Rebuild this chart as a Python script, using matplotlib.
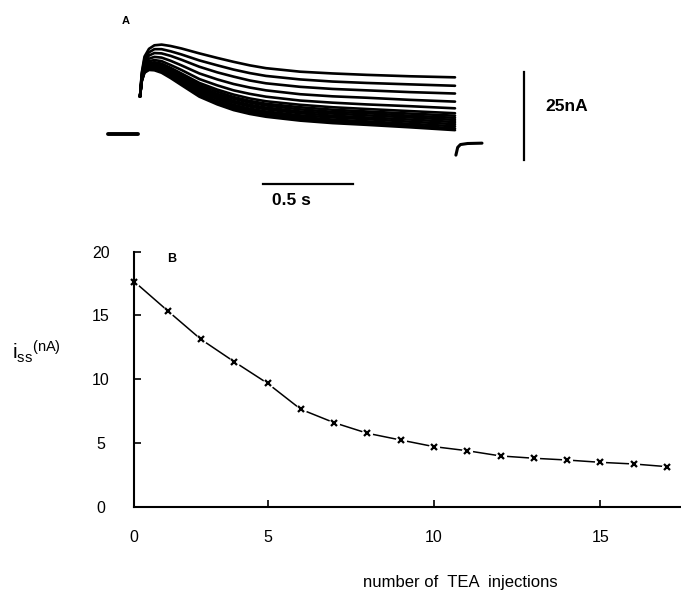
import matplotlib
matplotlib.use('Agg')
import matplotlib.pyplot as plt

plt.rcParams['font.family'] = ['Liberation Sans', 'DejaVu Sans']
plt.rcParams['mathtext.fontset'] = 'custom'
plt.rcParams['mathtext.rm'] = 'Liberation Sans'
plt.rcParams['mathtext.it'] = 'Liberation Sans:italic'

W, H = 681, 591

# A: current traces, time (s) from pulse onset, current (nA) above holding level
t_trace = [0.0, 0.01, 0.025, 0.05, 0.08, 0.12, 0.17, 0.23, 0.33,
           0.43, 0.52, 0.61, 0.70, 0.89, 1.07, 1.26, 1.5, 1.75]
traces = [
    [10.6, 17.5, 22.0, 24.2, 25.2, 25.4, 25.0, 24.3, 22.9, 21.6, 20.5, 19.5, 18.7, 17.7, 17.2, 16.8, 16.4, 16.1],
    [10.6, 17.1, 21.3, 23.2, 24.1, 24.1, 23.5, 22.6, 20.9, 19.5, 18.3, 17.3, 16.5, 15.5, 14.9, 14.5, 14.1, 13.7],
    [10.6, 16.7, 20.6, 22.3, 23.0, 22.9, 22.2, 21.1, 19.1, 17.5, 16.3, 15.2, 14.4, 13.4, 12.8, 12.4, 11.9, 11.5],
    [10.6, 16.4, 19.9, 21.4, 21.9, 21.7, 20.8, 19.5, 17.2, 15.5, 14.2, 13.2, 12.4, 11.3, 10.7, 10.3, 9.7, 9.2],
    [10.6, 16.0, 19.3, 20.7, 21.0, 20.7, 19.6, 18.2, 15.6, 13.8, 12.4, 11.4, 10.6, 9.5, 8.9, 8.4, 7.9, 7.3],
    [10.6, 15.8, 18.9, 20.1, 20.4, 20.0, 18.8, 17.2, 14.5, 12.6, 11.2, 10.1, 9.3, 8.3, 7.6, 7.1, 6.5, 5.9],
    [10.6, 15.7, 18.6, 19.8, 20.0, 19.6, 18.4, 16.7, 13.9, 12.0, 10.5, 9.4, 8.6, 7.6, 6.9, 6.4, 5.8, 5.2],
    [10.6, 15.6, 18.5, 19.6, 19.7, 19.2, 18.0, 16.3, 13.4, 11.4, 10.0, 8.9, 8.1, 7.0, 6.3, 5.9, 5.2, 4.6],
    [10.6, 15.5, 18.3, 19.3, 19.5, 18.9, 17.6, 15.9, 12.9, 10.9, 9.4, 8.3, 7.5, 6.4, 5.8, 5.3, 4.7, 4.0],
    [10.6, 15.4, 18.1, 19.1, 19.2, 18.6, 17.3, 15.5, 12.5, 10.4, 8.9, 7.8, 7.0, 5.9, 5.2, 4.7, 4.1, 3.4],
    [10.6, 15.3, 17.9, 18.9, 18.9, 18.3, 16.9, 15.0, 12.0, 9.9, 8.3, 7.2, 6.4, 5.3, 4.7, 4.2, 3.5, 2.8],
    [10.6, 15.2, 17.7, 18.6, 18.6, 18.0, 16.5, 14.6, 11.5, 9.3, 7.8, 6.7, 5.9, 4.8, 4.1, 3.6, 2.9, 2.2],
    [10.6, 15.1, 17.6, 18.4, 18.4, 17.7, 16.2, 14.3, 11.0, 8.9, 7.3, 6.2, 5.4, 4.3, 3.6, 3.1, 2.4, 1.6],
    [10.6, 15.0, 17.4, 18.2, 18.1, 17.4, 15.9, 13.9, 10.6, 8.4, 6.8, 5.7, 4.9, 3.8, 3.1, 2.6, 1.9, 1.1],
]
t_hold = [-0.18, -0.01]
i_hold = [0.0, 0.0]
t_tail = [1.755, 1.765, 1.78, 1.82, 1.9]
i_tail = [-6.0, -3.8, -3.0, -2.7, -2.6]

# B: steady state current after each TEA injection
injections = [1, 2, 3, 4, 5, 6, 7, 8, 9, 10, 11, 12, 13, 14, 15, 16, 17]
iss = [17.65, 15.37, 13.13, 11.37, 9.68, 7.64, 6.59, 5.76, 5.23,
       4.71, 4.39, 3.98, 3.80, 3.66, 3.48, 3.35, 3.14]
xtick_pos = [1, 5, 10, 15]
xtick_lab = ['0', '5', '10', '15']
ytick_pos = [0, 5, 10, 15, 20]


def box(x0, y0, x1, y1):
    # pixel box (from top left) -> figure fraction
    return [x0 / W, 1 - y1 / H, (x1 - x0) / W, (y1 - y0) / H]


fig = plt.figure(figsize=(W / 100, H / 100), dpi=100)

# ---- panel A
px_s, px_na, x_on, y_base = 180.0, 3.52, 140, 134
axA = fig.add_axes(box(100, 10, 600, 220))
axA.set_xlim((100 - x_on) / px_s, (600 - x_on) / px_s)
axA.set_ylim((y_base - 220) / px_na, (y_base - 10) / px_na)
axA.axis('off')

for tr in traces:
    axA.plot(t_trace, tr, color='k', lw=1.9, solid_capstyle='round', solid_joinstyle='round')
axA.plot(t_hold, i_hold, color='k', lw=2.8, solid_capstyle='round')
axA.plot(t_tail, i_tail, color='k', lw=2.2, solid_capstyle='round')

# scale bars
sb_t, sb_i = 2.133, -7.4
axA.plot([sb_t, sb_t], [sb_i, sb_i + 25], color='k', lw=1.6)
axA.text(2.25, 7.95, '25nA', fontsize=12.5, fontweight='bold', ha='left', va='center')
hb_t, hb_i = 0.683, -14.2
axA.plot([hb_t, hb_t + 0.5], [hb_i, hb_i], color='k', lw=1.6)
axA.text(0.733, -19.0, '0.5 s', fontsize=12.5, fontweight='bold', ha='left', va='center')
axA.text(-0.1, 32.0, 'A', fontsize=8, fontweight='bold', ha='left', va='center')

# ---- panel B
ax = fig.add_axes(box(134.3, 251.7, 681, 506.7))
ax.set_xlim(1, 1 + (681 - 134.3) / 33.3)
ax.set_ylim(0, 20)
ax.plot(injections, iss, color='k', lw=1.1, clip_on=False)
ax.plot(injections, iss, 'o', ms=8, mfc='white', mec='none', clip_on=False)
ax.plot(injections, iss, 'x', ms=5, mew=1.6, color='k', clip_on=False, zorder=3)

for s in ['top', 'right']:
    ax.spines[s].set_visible(False)
for s in ['left', 'bottom']:
    ax.spines[s].set_linewidth(1.5)

ax.set_xticks(xtick_pos)
ax.set_xticklabels(xtick_lab)
ax.set_yticks(ytick_pos)
ax.tick_params(direction='in', length=5, width=1.2, labelsize=11.5)
ax.tick_params(axis='x', pad=17)
ax.tick_params(axis='y', pad=24)
for lab in ax.get_yticklabels():
    lab.set_horizontalalignment('center')

fig.text(172 / W, 1 - 259 / H, 'B', fontsize=9, fontweight='bold', ha='center', va='center')
fig.text(12 / W, 1 - 352 / H, r'$\mathregular{i_{ss}{}^{(nA)}}$', fontsize=15,
         ha='left', va='center')
fig.text(460 / W, 1 - 582 / H, 'number of  TEA  injections', fontsize=12,
         ha='center', va='center')

fig.savefig('out.png', dpi=100)
